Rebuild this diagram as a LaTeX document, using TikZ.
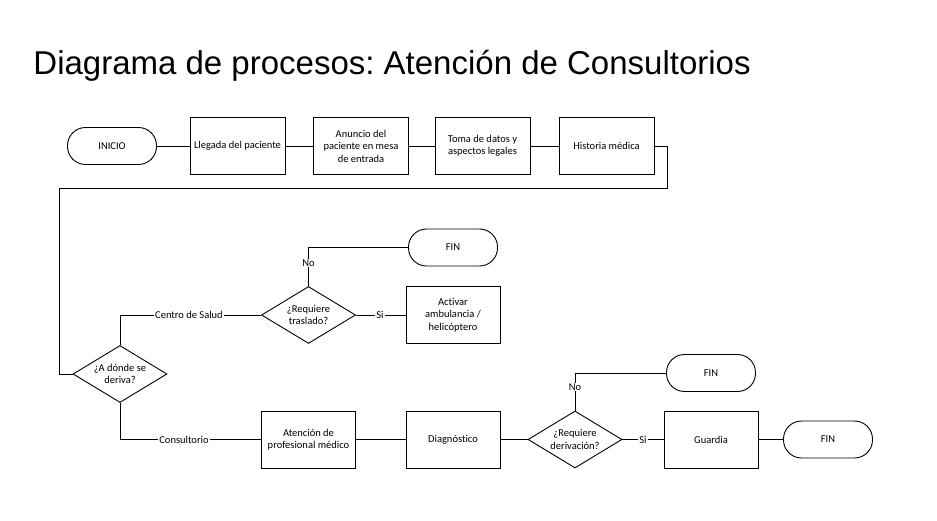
\documentclass[tikz,border=0pt]{standalone}
\usepackage{fontspec}
\setmainfont{Carlito}[Ligatures=NoCommon]
\newfontfamily\titlefont{Liberation Sans}
\usetikzlibrary{shapes.geometric}
\frenchspacing

\tikzset{
  term/.style={draw, rounded corners=18pt, minimum width=89pt, minimum height=37pt, inner sep=1pt},
  proc/.style={draw, minimum width=95pt, minimum height=57pt, align=center, inner sep=1pt},
  decis/.style={draw, diamond, aspect=1.65, minimum width=94pt, minimum height=57pt, inner sep=0pt, align=center},
  lbl/.style={inner sep=0.5pt, fill=white}
}

\begin{document}
\begin{tikzpicture}[x=1pt,y=-1pt, line width=0.9pt, font=\fontsize{10.5}{12.5}\selectfont]
\useasboundingbox (0,0) rectangle (937,521);
\node[anchor=base west, inner sep=0pt, font=\titlefont\fontsize{33}{40}\selectfont] (title) at (33,75) {Diagrama de procesos: Atención de Consultorios};

% fila superior
\node[term] (inicio) at (112,146) {INICIO};
\node[proc] (llegada) at (237.5,146) {Llegada del paciente};
\node[proc] (anuncio) at (361,146) {Anuncio del\\paciente en mesa\\de entrada};
\node[proc] (toma) at (482.5,146) {Toma de datos y\\aspectos legales};
\node[proc] (historia) at (606.5,146) {Historia médica};
\draw (inicio) -- (llegada);
\draw (llegada) -- (anuncio);
\draw (anuncio) -- (toma);
\draw (toma) -- (historia);

% retorno
\coordinate (r1) at (667,188);
\coordinate (r2) at (59,188);
\node[decis] (deriva) at (120,374) {¿A dónde se\\deriva?};
\draw (historia.east) -| (r1) -- (r2) |- (deriva.west);

% centro de salud
\node[decis] (traslado) at (308.5,315) {¿Requiere\\traslado?};
\node[lbl] (salud) at (189,315) {Centro de Salud};
\node[term] (fin1) at (453,247.5) {FIN};
\node[proc, minimum width=94pt] (ambul) at (453,315) {Activar\\ambulancia /\\helicóptero};
\node[lbl] (no1) at (308.5,263) {No};
\node[lbl] (si1) at (380,315) {Si};
\draw (deriva.north) |- (salud.west);
\draw (salud.east) -- (traslado.west);
\draw (traslado.north) -- (no1.south);
\draw (no1.north) |- (fin1.west);
\draw (traslado.east) -- (si1.west);
\draw (si1.east) -- (ambul.west);

% consultorio
\node[lbl] (consul) at (184,439.5) {Consultorio};
\node[proc, minimum width=94pt] (atencion) at (308.5,439.5) {Atención de\\profesional médico};
\node[proc, minimum width=94pt] (diag) at (453,439.5) {Diagnóstico};
\node[decis] (derivacion) at (575,439.5) {¿Requiere\\derivación?};
\node[term] (fin2) at (711,373) {FIN};
\node[proc, minimum width=94pt] (guardia) at (711,439.5) {Guardia};
\node[term] (fin3) at (828,439.5) {FIN};
\node[lbl] (no2) at (575,387) {No};
\node[lbl] (si2) at (643,439.5) {Si};
\draw (deriva.south) |- (consul.west);
\draw (consul.east) -- (atencion.west);
\draw (atencion) -- (diag);
\draw (diag) -- (derivacion);
\draw (derivacion.north) -- (no2.south);
\draw (no2.north) |- (fin2.west);
\draw (derivacion.east) -- (si2.west);
\draw (si2.east) -- (guardia.west);
\draw (guardia) -- (fin3);
\end{tikzpicture}
\end{document}
